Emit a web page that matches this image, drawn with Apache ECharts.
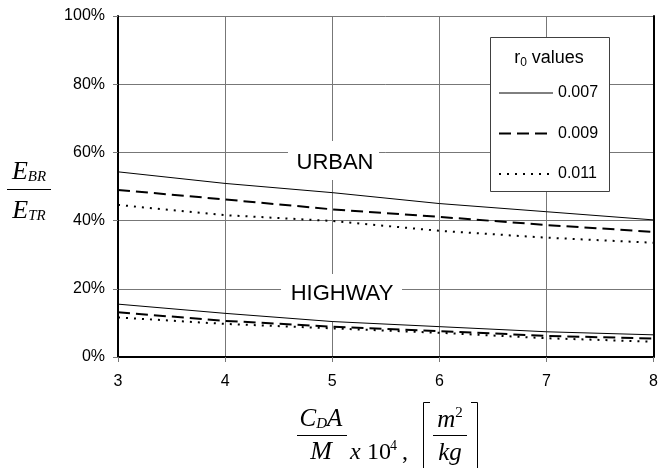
<!DOCTYPE html>
<html>
<head>
<meta charset="utf-8">
<script src="https://cdn.jsdelivr.net/npm/echarts@6/dist/echarts.min.js"></script>
<style>
html,body{margin:0;padding:0;background:#fff;}
#c{width:661px;height:468px;}
</style>
</head>
<body>
<div id="c"></div>
<script>
// ---- data ----
var xValues = [3, 4, 5, 6, 7, 8];
var urban007 = [54.3, 50.9, 48.2, 45.0, 42.6, 40.2];
var urban009 = [49.0, 46.2, 43.3, 41.1, 38.7, 36.7];
var urban011 = [44.6, 41.6, 39.9, 37.0, 35.0, 33.5];
var highway007 = [15.5, 12.8, 10.4, 8.9, 7.4, 6.5];
var highway009 = [13.1, 10.6, 8.9, 7.6, 6.2, 5.4];
var highway011 = [11.6, 9.7, 8.4, 7.1, 5.5, 4.5];
var seriesNames = ['0.007', '0.009', '0.011'];
var xTicks = [3, 4, 5, 6, 7, 8];
var yTicks = [0, 20, 40, 60, 80, 100];

function pts(arr) { return xValues.map(function (x, i) { return [x, arr[i]]; }); }

var styles = [
  { width: 1, type: 'solid' },
  { width: 2, type: [12, 6] },
  { width: 2, type: [2, 6] }
];

function mk(name, arr, k) {
  return {
    name: name, type: 'line', data: pts(arr), symbol: 'none', z: 3,
    lineStyle: { color: '#000', width: styles[k].width, type: styles[k].type },
    itemStyle: { color: '#000' }
  };
}

var chart = echarts.init(document.getElementById('c'), null, { renderer: 'canvas' });
var serif = '"Liberation Serif","Times New Roman",serif';
var sans = '"Liberation Sans",Arial,sans-serif';

var option = {
  animation: false,
  backgroundColor: '#fff',
  grid: { left: 118, top: 16, width: 538, height: 341, show: false },
  xAxis: {
    type: 'value', min: 3, max: 8, interval: 1,
    axisLine: { show: true, onZero: false, lineStyle: { color: '#000', width: 2 } },
    axisTick: { show: true, length: 5, lineStyle: { color: '#777' } },
    axisLabel: { color: '#000', fontSize: 16, fontFamily: sans, margin: 17 },
    splitLine: { show: true, lineStyle: { color: '#777', width: 1 } }
  },
  yAxis: [{
    type: 'value', min: 0, max: 100, interval: 20,
    axisLine: { show: true, lineStyle: { color: '#000', width: 2 } },
    axisTick: { show: true, length: 5, lineStyle: { color: '#777' } },
    axisLabel: { color: '#000', fontSize: 16, fontFamily: sans, margin: 13, formatter: '{value}%' },
    splitLine: { show: true, lineStyle: { color: '#777', width: 1 } }
  }, {
    type: 'value', min: 0, max: 100, interval: 20, position: 'right',
    axisLine: { show: true, lineStyle: { color: '#000', width: 2 } },
    axisTick: { show: false }, axisLabel: { show: false }, splitLine: { show: false }
  }],
  legend: {
    data: [
      { name: seriesNames[0], lineStyle: { width: 1, type: 'solid' } },
      { name: seriesNames[1], lineStyle: { width: 2, type: [12, 6] } },
      { name: seriesNames[2], lineStyle: { width: 2, type: [2, 6] } }
    ],
    orient: 'vertical', left: 498, top: 85, padding: 0,
    itemWidth: 54, itemHeight: 14, itemGap: 24.5, itemStyle: { opacity: 0 },
    textStyle: { color: '#000', fontSize: 16, fontFamily: sans },
    selectedMode: false, z: 5
  },
  series: [
    mk(seriesNames[0], urban007, 0), mk(seriesNames[1], urban009, 1), mk(seriesNames[2], urban011, 2),
    mk(seriesNames[0], highway007, 0), mk(seriesNames[1], highway009, 1), mk(seriesNames[2], highway011, 2)
  ],
  graphic: [
    // legend box
    { type: 'rect', z: 1, shape: { x: 490.5, y: 37.5, width: 119, height: 154 },
      style: { fill: '#fff', stroke: '#404040', lineWidth: 1 } },
    { type: 'text', z: 5, x: 549, y: 58,
      style: { text: 'r{s|0} values', x: 0, y: 0, align: 'center', verticalAlign: 'middle',
        font: '18px ' + sans, fill: '#000',
        rich: { s: { fontSize: 12, fontFamily: sans, padding: [10, 0, 0, 0] } } } },
    // annotations
    { type: 'rect', z: 1, shape: { x: 288, y: 141, width: 91, height: 39 }, style: { fill: '#fff' } },
    { type: 'text', z: 1, x: 335, y: 163,
      style: { text: 'URBAN', align: 'center', verticalAlign: 'middle', font: '22px ' + sans, fill: '#000' } },
    { type: 'rect', z: 1, shape: { x: 281, y: 274, width: 121, height: 47 }, style: { fill: '#fff' } },
    { type: 'text', z: 1, x: 342, y: 294,
      style: { text: 'HIGHWAY', align: 'center', verticalAlign: 'middle', font: '22px ' + sans, fill: '#000' } },
    // y axis title: E_BR / E_TR
    { type: 'text', x: 29, y: 172,
      style: { text: '{e|E}{s|BR}', align: 'center', verticalAlign: 'middle', fill: '#000',
        rich: { e: { font: 'italic 26px ' + serif }, s: { font: 'italic 15px ' + serif, padding: [10, 0, 0, 0] } } } },
    { type: 'line', shape: { x1: 7, y1: 189.5, x2: 51, y2: 189.5 }, style: { stroke: '#000', lineWidth: 1 } },
    { type: 'text', x: 29, y: 211,
      style: { text: '{e|E}{s|TR}', align: 'center', verticalAlign: 'middle', fill: '#000',
        rich: { e: { font: 'italic 26px ' + serif }, s: { font: 'italic 15px ' + serif, padding: [10, 0, 0, 0] } } } },
    // x axis title
    { type: 'text', x: 321, y: 419,
      style: { text: '{e|C}{s|D}{e|A}', align: 'center', verticalAlign: 'middle', fill: '#000',
        rich: { e: { font: 'italic 25px ' + serif }, s: { font: 'italic 15px ' + serif, padding: [10, 0, 0, 0] } } } },
    { type: 'line', shape: { x1: 297, y1: 435.5, x2: 347, y2: 435.5 }, style: { stroke: '#000', lineWidth: 1 } },
    { type: 'text', x: 321, y: 452,
      style: { text: 'M', align: 'center', verticalAlign: 'middle', font: 'italic 26px ' + serif, fill: '#000' } },
    { type: 'text', x: 350, y: 453,
      style: { text: 'x', align: 'left', verticalAlign: 'middle', font: 'italic 24px ' + serif, fill: '#000' } },
    { type: 'text', x: 367, y: 453,
      style: { text: '10', align: 'left', verticalAlign: 'middle', font: '24px ' + serif, fill: '#000' } },
    { type: 'text', x: 390, y: 446,
      style: { text: '4', align: 'left', verticalAlign: 'middle', font: '14px ' + serif, fill: '#000' } },
    { type: 'text', x: 402, y: 453,
      style: { text: ',', align: 'left', verticalAlign: 'middle', font: '24px ' + serif, fill: '#000' } },
    { type: 'polyline', shape: { points: [[430, 402.5], [423.5, 402.5], [423.5, 468]] },
      style: { stroke: '#000', lineWidth: 1, fill: null } },
    { type: 'polyline', shape: { points: [[471, 402.5], [477.5, 402.5], [477.5, 468]] },
      style: { stroke: '#000', lineWidth: 1, fill: null } },
    { type: 'text', x: 450, y: 420,
      style: { text: '{e|m}{p|2}', align: 'center', verticalAlign: 'middle', fill: '#000',
        rich: { e: { font: 'italic 25px ' + serif }, p: { font: '15px ' + serif, padding: [0, 0, 14, 0] } } } },
    { type: 'line', shape: { x1: 433, y1: 435.5, x2: 467, y2: 435.5 }, style: { stroke: '#000', lineWidth: 1 } },
    { type: 'text', x: 450, y: 453,
      style: { text: 'kg', align: 'center', verticalAlign: 'middle', font: 'italic 25px ' + serif, fill: '#000' } }
  ]
};
chart.setOption(option);
</script>
</body>
</html>
